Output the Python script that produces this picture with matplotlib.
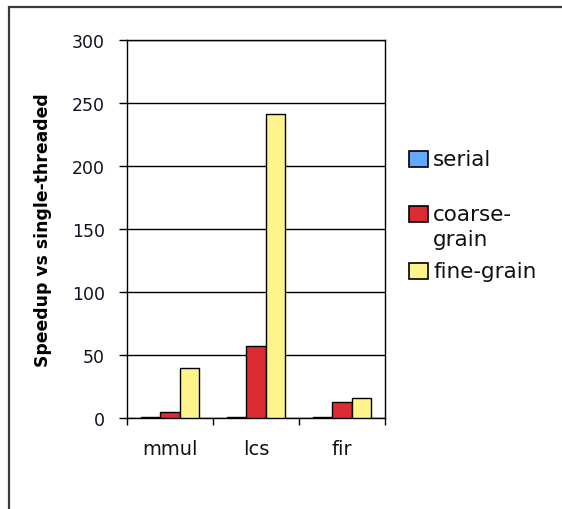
import matplotlib
matplotlib.use("Agg")
import matplotlib.pyplot as plt
from matplotlib.patches import Rectangle
import numpy as np

categories = ["mmul", "lcs", "fir"]
series_names = ["serial", "coarse-\ngrain", "fine-grain"]
serial = [1, 1, 1]
coarse = [4.5, 57, 13]
fine = [39.5, 241, 16]
yticks = [0, 50, 100, 150, 200, 250, 300]
colors = ["#62a8ff", "#dd2b35", "#fff48c"]

fig = plt.figure(figsize=(5.62, 5.10), dpi=100)
ax = fig.add_axes([127/562, 1-419/510, (385-127)/562, (419-41)/510])

x = np.arange(len(categories))
w = 0.221
for i, vals in enumerate([serial, coarse, fine]):
    ax.bar(x + (i-1)*w, vals, width=w, color=colors[i], edgecolor="black",
           linewidth=1.0, zorder=3)

ax.set_xlim(-0.5, len(categories)-0.5)
ax.set_ylim(0, 300)
ax.set_yticks(yticks)
ax.set_yticklabels([str(t) for t in yticks], fontsize=12.5, color="#111122")
ax.yaxis.grid(True, color="black", linewidth=1.0, zorder=0)
ax.tick_params(axis="y", length=6, width=1.0, pad=10, direction="out")

ax.set_xticks(x)
ax.set_xticklabels(categories, fontsize=14, color="#111111")
ax.set_xticks(np.arange(-0.5, len(categories)), minor=True)
ax.tick_params(axis="x", which="major", length=0, pad=15)
ax.tick_params(axis="x", which="minor", length=5, width=1.0, direction="out")

for s in ax.spines.values():
    s.set_linewidth(1.0)
    s.set_color("black")

ax.set_ylabel("Speedup vs single-threaded", fontsize=12.4, fontweight="bold",
              labelpad=14)

# legend (manual, handle aligned with first text line)
leg_y = [160, 215, 272]
for yy, name, c in zip(leg_y, series_names, colors):
    fig.add_artist(Rectangle((409/562, 1-(yy+8)/510), 19/562, 16/510,
                             transform=fig.transFigure, facecolor=c,
                             edgecolor="black", linewidth=1.2))
    for k, ln in enumerate(name.split("\n")):
        fig.text(433/562, 1-(yy + k*25)/510, ln, fontsize=15.5, va="center",
                 ha="left", color="#111111", transform=fig.transFigure)

# outer chart-area border
fig.add_artist(Rectangle((8.5/562, -0.2), 1.5, 1.2 - 7.5/510,
                         transform=fig.transFigure, fill=False,
                         edgecolor="#3a3a3a", linewidth=1.6))

fig.savefig("out.png", dpi=100)
